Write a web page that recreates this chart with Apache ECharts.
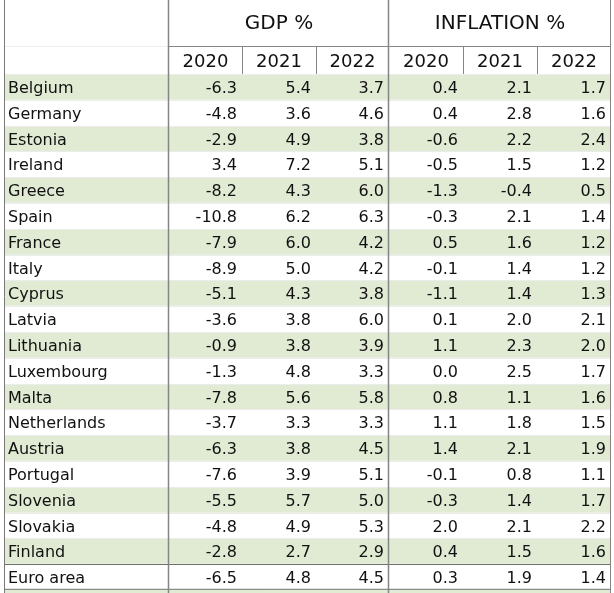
<!DOCTYPE html>
<html>
<head>
<meta charset="utf-8">
<script src="https://cdn.jsdelivr.net/npm/echarts@6/dist/echarts.min.js"></script>
<style>
  html, body { margin: 0; padding: 0; background: #fff; }
  #chart { width: 614px; height: 593px; }
</style>
</head>
<body>
<div id="chart"></div>
<script>
// table data
var countries = ['Belgium', 'Germany', 'Estonia', 'Ireland', 'Greece', 'Spain', 'France', 'Italy', 'Cyprus', 'Latvia',
  'Lithuania', 'Luxembourg', 'Malta', 'Netherlands', 'Austria', 'Portugal', 'Slovenia', 'Slovakia', 'Finland', 'Euro area']
var gdp2020 = [-6.3, -4.8, -2.9, 3.4, -8.2, -10.8, -7.9, -8.9, -5.1, -3.6, -0.9, -1.3, -7.8, -3.7, -6.3, -7.6, -5.5, -4.8, -2.8, -6.5]
var gdp2021 = [5.4, 3.6, 4.9, 7.2, 4.3, 6.2, 6.0, 5.0, 4.3, 3.8, 3.8, 4.8, 5.6, 3.3, 3.8, 3.9, 5.7, 4.9, 2.7, 4.8]
var gdp2022 = [3.7, 4.6, 3.8, 5.1, 6.0, 6.3, 4.2, 4.2, 3.8, 6.0, 3.9, 3.3, 5.8, 3.3, 4.5, 5.1, 5.0, 5.3, 2.9, 4.5]
var inf2020 = [0.4, 0.4, -0.6, -0.5, -1.3, -0.3, 0.5, -0.1, -1.1, 0.1, 1.1, 0.0, 0.8, 1.1, 1.4, -0.1, -0.3, 2.0, 0.4, 0.3]
var inf2021 = [2.1, 2.8, 2.2, 1.5, -0.4, 2.1, 1.6, 1.4, 1.4, 2.0, 2.3, 2.5, 1.1, 1.8, 2.1, 0.8, 1.4, 2.1, 1.5, 1.9]
var inf2022 = [1.7, 1.6, 2.4, 1.2, 0.5, 1.4, 1.2, 1.2, 1.3, 2.1, 2.0, 1.7, 1.6, 1.5, 1.9, 1.1, 1.7, 2.2, 1.6, 1.4]
var years = ['2020', '2021', '2022']
var groups = ['GDP %', 'INFLATION %']

// layout (x axis units = px from grid left)
var GRID_LEFT = 5
var colEdges = [0, 164, 237, 311, 384, 458, 532, 606]
var GREEN = '#e1ebd4'
var TEXT = '#111111'
var LINE = '#858585'
var FONT = 'DejaVu Sans'

var columns = [gdp2020, gdp2021, gdp2022, inf2020, inf2021, inf2022]
var rows = countries.map(function (c, i) {
  return [i].concat(columns.map(function (col) { return col[i] }))
})

var chart = echarts.init(document.getElementById('chart'))

function renderRow(params, api) {
  var i = api.value(0)
  var bandH = api.size([0, 1])[1]
  var yc = api.coord([0, i])[1]
  var top = Math.round(yc - bandH / 2)
  var x0 = api.coord([colEdges[0], i])[0]
  var x1 = api.coord([colEdges[colEdges.length - 1], i])[0]
  var children = []
  if (i % 2 === 0) {
    children.push({ type: 'rect', shape: { x: x0, y: top, width: x1 - x0, height: bandH }, style: { fill: GREEN } })
  }
  // row separator
  var last = i === countries.length - 1
  children.push({
    type: 'line',
    shape: { x1: x0, y1: top + 0.5, x2: x1, y2: top + 0.5 },
    style: { stroke: last ? '#6e6e6e' : '#ececec', lineWidth: 1 }
  })
  if (last) {
    children.push({
      type: 'line',
      shape: { x1: x0, y1: top + bandH - 0.5, x2: x1, y2: top + bandH - 0.5 },
      style: { stroke: '#6e6e6e', lineWidth: 1 }
    })
  }
  children.push({
    type: 'text',
    style: { x: x0 + 3, y: yc + 2, text: countries[i], fill: TEXT, font: '16px "' + FONT + '"', align: 'left', verticalAlign: 'middle' }
  })
  for (var k = 0; k < 6; k++) {
    var right = api.coord([colEdges[k + 2], i])[0]
    children.push({
      type: 'text',
      style: { x: right - 5, y: yc + 2, text: api.value(k + 1).toFixed(1), fill: TEXT, font: '16px "' + FONT + '"', align: 'right', verticalAlign: 'middle' }
    })
  }
  return { type: 'group', children: children }
}

// header graphics
var gx = function (u) { return GRID_LEFT + u }
var header = []
header.push({ type: 'rect', shape: { x: gx(0), y: 590, width: 606, height: 3 }, style: { fill: GREEN } })
// horizontal header lines
header.push({ type: 'line', shape: { x1: gx(0), y1: 46.5, x2: gx(164), y2: 46.5 }, style: { stroke: '#eeeeee', lineWidth: 1 } })
header.push({ type: 'line', shape: { x1: gx(164), y1: 46.5, x2: gx(606), y2: 46.5 }, style: { stroke: LINE, lineWidth: 1 } })
header.push({ type: 'line', shape: { x1: gx(0), y1: 74.5, x2: gx(606), y2: 74.5 }, style: { stroke: LINE, lineWidth: 1 } })
// group titles
groups.forEach(function (g, j) {
  var a = colEdges[1 + j * 3], b = colEdges[4 + j * 3]
  header.push({ type: 'text', style: { x: gx((a + b) / 2), y: 24, text: g, fill: TEXT, font: '20px "' + FONT + '"', align: 'center', verticalAlign: 'middle' } })
})
// year labels
for (var k = 0; k < 6; k++) {
  header.push({
    type: 'text',
    style: { x: gx((colEdges[k + 1] + colEdges[k + 2]) / 2), y: 62, text: years[k % 3], fill: TEXT, font: '18px "' + FONT + '"', align: 'center', verticalAlign: 'middle' }
  })
  if (k % 3 !== 0) {
    header.push({ type: 'line', shape: { x1: gx(colEdges[k + 1]) + 0.5, y1: 46, x2: gx(colEdges[k + 1]) + 0.5, y2: 74 }, style: { stroke: LINE, lineWidth: 1 } })
  }
}
// vertical full-height lines
;[0, 164, 384, 606].forEach(function (u) {
  header.push({ type: 'line', shape: { x1: gx(u) - 0.5, y1: 0, x2: gx(u) - 0.5, y2: 593 }, style: { stroke: u === 0 ? '#7a7a7a' : LINE, lineWidth: u === 164 || u === 384 ? 1.5 : 1 }, z: 100 })
})

chart.setOption({
  animation: false,
  grid: { left: GRID_LEFT, right: 614 - GRID_LEFT - 606, top: 74, bottom: 3 },
  xAxis: { type: 'value', min: 0, max: 606, show: false },
  yAxis: { type: 'category', data: countries, inverse: true, show: false },
  series: [{
    type: 'custom',
    renderItem: renderRow,
    data: rows,
    encode: { y: 0 },
    clip: false,
    z: 1
  }],
  graphic: header
})
</script>
</body>
</html>
